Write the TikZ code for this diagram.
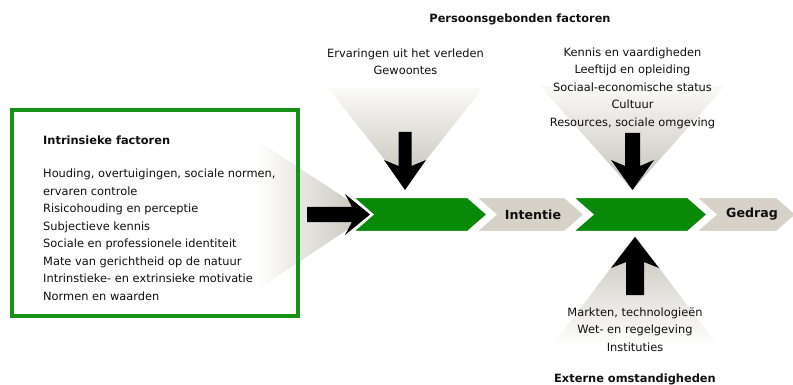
\documentclass[tikz,border=0pt]{standalone}
\usepackage{fontspec}
\setmainfont{DejaVu Sans}
\definecolor{chgreen}{RGB}{8,138,8}
\definecolor{boxgreen}{RGB}{22,146,22}
\definecolor{chgray}{RGB}{214,210,200}
\definecolor{fungray}{RGB}{196,192,182}
\definecolor{funlight}{RGB}{250,250,248}
\definecolor{txt}{RGB}{15,15,15}
\begin{document}
\begin{tikzpicture}[x=1pt,y=-1pt,
  txtstyle/.style={inner sep=0pt,text=txt,font=\fontsize{11.4}{17.5}\selectfont},
  boldtxt/.style={inner sep=0pt,text=txt,font=\fontsize{11.4}{17.5}\selectfont\bfseries},
  chevtxt/.style={inner sep=0pt,text=txt,font=\fontsize{12.6}{15}\selectfont\bfseries},
  greenchev/.style={fill=chgreen,draw=white,line width=2.5pt,line join=miter},
  graychev/.style={fill=chgray,draw=white,line width=2.5pt,line join=miter},
  fatarrow/.style={fill=black}]
\useasboundingbox (0,0) rectangle (793,385);
% funnels
\shade[top color=funlight,bottom color=fungray] (328,88) -- (483,88) -- (405.5,186) -- cycle;
\shade[top color=funlight,bottom color=fungray] (540,86) -- (725,86) -- (632.5,190) -- cycle;
\shade[top color=fungray,bottom color=white] (635,236) -- (718,346) -- (552,346) -- cycle;
\shade[left color=white,right color=fungray] (257,140) -- (370,214.5) -- (257,290) -- cycle;
% left box
\draw[boxgreen,line width=4pt] (12,110) rectangle (298,316);
% chevrons
\def\chev#1#2{(#1,197) -- (#2-20,197) -- (#2,214.5) -- (#2-20,232) -- (#1,232) -- (#1+20,214.5) -- cycle}
\path[greenchev] \chev{352}{488};
\path[graychev] \chev{475}{585};
\path[greenchev] \chev{572}{708};
\path[graychev] \chev{695}{797};
% arrows
\path[fatarrow] (307,207) -- (352,207) -- (345,194) -- (370,214.5) -- (345,235) -- (352,222) -- (307,222) -- cycle;
\path[fatarrow] (398.5,132) -- (398.5,166) -- (384,160) -- (405,190) -- (426,160) -- (411.5,166) -- (411.5,132) -- cycle;
\path[fatarrow] (625,133) -- (625,166) -- (611,160) -- (632.5,190) -- (654,160) -- (640,166) -- (640,133) -- cycle;
\path[fatarrow] (626,295) -- (626,262) -- (611,268) -- (635,237) -- (659,268) -- (644,262) -- (644,295) -- cycle;
% texts
\node[boldtxt] (pers) at (520,19) {Persoonsgebonden factoren};
\node[txtstyle,align=center] (erv) at (405.5,62) {Ervaringen uit het verleden\\Gewoontes};
\node[txtstyle,align=center] (ken) at (632.5,88) {Kennis en vaardigheden\\Leeftijd en opleiding\\Sociaal-economische status\\Cultuur\\Resources, sociale omgeving};
\node[txtstyle,align=center] (mark) at (635,329.5) {Markten, technologieën\\Wet- en regelgeving\\Instituties};
\node[boldtxt] (ext) at (635,379) {Externe omstandigheden};
\node[chevtxt] (int) at (533,214.5) {Intentie};
\node[chevtxt] (ged) at (752,214.5) {Gedrag};
\node[boldtxt,anchor=west] (intr) at (43,140) {Intrinsieke factoren};
\node[txtstyle,align=left,anchor=west] (list) at (43,234.5) {Houding, overtuigingen, sociale normen,\\ervaren controle\\Risicohouding en perceptie\\Subjectieve kennis\\Sociale en professionele identiteit\\Mate van gerichtheid op de natuur\\Intrinstieke- en extrinsieke motivatie\\Normen en waarden};
\end{tikzpicture}
\end{document}
